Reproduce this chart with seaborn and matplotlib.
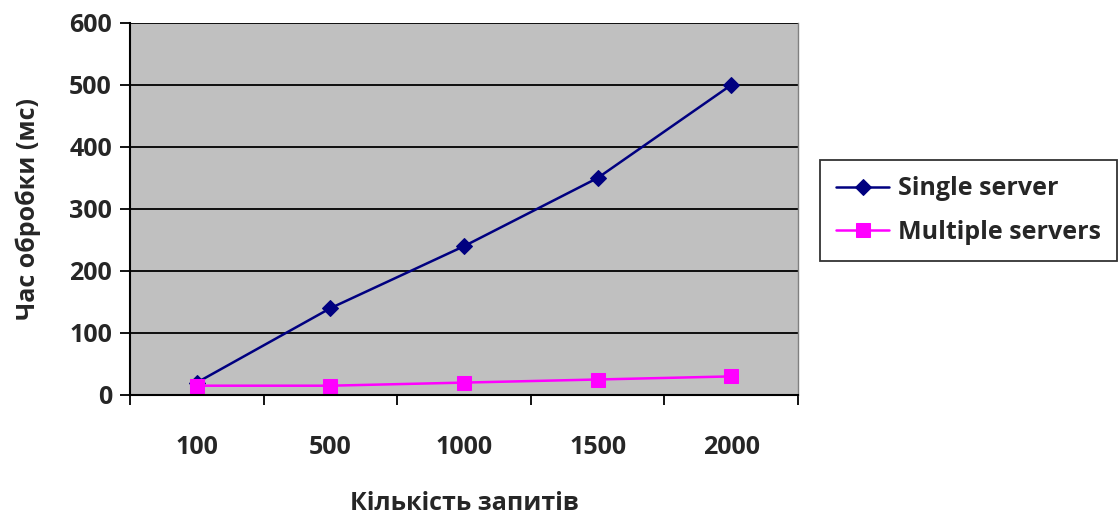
import numpy as np
import pandas as pd
import matplotlib
matplotlib.use('Agg')
import matplotlib.pyplot as plt
import seaborn as sns

# DATA
requests = ['100', '500', '1000', '1500', '2000']
single_server = [20, 140, 240, 350, 500]
multiple_servers = [15, 15, 20, 25, 30]

sns.set_style('white')
plt.rcParams['font.family'] = ['Open Sans', 'DejaVu Sans']
plt.rcParams['font.weight'] = 'bold'
plt.rcParams['xtick.bottom'] = True
plt.rcParams['ytick.left'] = True

fs = 18

df = pd.DataFrame({
    'pos': list(range(len(requests))) * 2,
    'value': single_server + multiple_servers,
    'series': ['Single server'] * len(requests) + ['Multiple servers'] * len(requests),
})

fig = plt.figure(figsize=(11.2, 5.15), dpi=100)
ax = fig.add_axes([130 / 1120, 1 - 395 / 515, 668 / 1120, 372 / 515])
ax.set_facecolor('#C0C0C0')

palette = {'Single server': '#000080', 'Multiple servers': '#FF00FF'}
markers = {'Single server': 'D', 'Multiple servers': 's'}
sizes = {'Single server': 8, 'Multiple servers': 10.5}
for name in ['Single server', 'Multiple servers']:
    sub = df[df.series == name]
    sns.lineplot(data=sub, x='pos', y='value', ax=ax, color=palette[name],
                 marker=markers[name], markersize=sizes[name],
                 markeredgecolor=palette[name], linewidth=1.8, label=name)

ax.set_xlim(-0.5, len(requests) - 0.5)
ax.set_ylim(0, 600)
ax.set_yticks(range(0, 601, 100))
ax.yaxis.grid(True, color='black', linewidth=1.3)
ax.xaxis.grid(False)
ax.set_axisbelow(True)

ax.set_xticks(range(len(requests)))
ax.set_xticklabels(requests, fontsize=fs, fontweight='bold')
ax.set_xticks(np.arange(-0.5, len(requests)), minor=True)
ax.tick_params(axis='x', which='major', length=0, pad=29)
ax.tick_params(axis='x', which='minor', length=7, width=1.3, direction='out', color='black')
ax.tick_params(axis='y', length=7, width=1.3, direction='out', color='black', labelsize=fs, pad=6)
for lab in ax.get_yticklabels():
    lab.set_fontweight('bold')

for side in ['left', 'bottom']:
    ax.spines[side].set_color('black')
    ax.spines[side].set_linewidth(1.5)
ax.spines['right'].set_color('#808080')
ax.spines['right'].set_linewidth(1)
ax.spines['top'].set_visible(False)

ax.set_xlabel('Кількість запитів', fontsize=fs, fontweight='bold')
ax.xaxis.set_label_coords(0.5, (395 - 503) / 372)
ax.xaxis.label.set_va('center')
ax.set_ylabel('Час обробки (мс)', fontsize=fs, fontweight='bold')
ax.yaxis.set_label_coords((28 - 130) / 668, 0.5)
ax.yaxis.label.set_va('center')

leg = ax.legend(loc='upper left', bbox_to_anchor=(820 / 1120, 1 - 160 / 515),
                bbox_transform=fig.transFigure, borderaxespad=0, frameon=True,
                fancybox=False, edgecolor='black', handlelength=2.1, handletextpad=0.35,
                borderpad=0.65, labelspacing=0.75, prop={'weight': 'bold', 'size': fs})
leg.get_frame().set_linewidth(1.3)

fig.savefig('out.png', dpi=100)
